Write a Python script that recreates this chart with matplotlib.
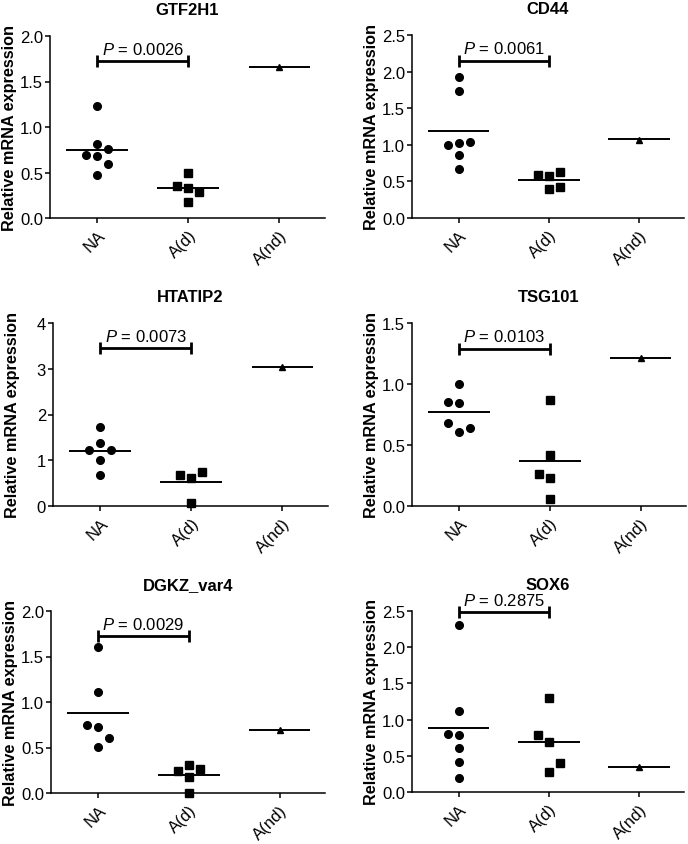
import matplotlib
matplotlib.use("Agg")
import matplotlib.pyplot as plt

plt.rcParams['font.family'] = ['Liberation Sans', 'DejaVu Sans']
plt.rcParams['mathtext.fontset'] = 'custom'
plt.rcParams['mathtext.it'] = 'Liberation Sans:italic'
plt.rcParams['mathtext.rm'] = 'Liberation Sans'

groups = ["NA", "A(d)", "A(nd)"]
genes = ["GTF2H1", "CD44", "HTATIP2", "TSG101", "DGKZ_var4", "SOX6"]

# values per gene: NA, A(d), A(nd)
gtf2h1_na = [1.23, 0.81, 0.76, 0.69, 0.68, 0.59, 0.47]
gtf2h1_ad = [0.50, 0.35, 0.33, 0.29, 0.18]
gtf2h1_and = [1.66]
gtf2h1_mean = [0.75, 0.33, 1.66]

cd44_na = [1.93, 1.74, 1.00, 1.03, 1.04, 0.86, 0.67]
cd44_ad = [0.59, 0.57, 0.63, 0.40, 0.42]
cd44_and = [1.07]
cd44_mean = [1.19, 0.52, 1.08]

htatip2_na = [1.73, 1.38, 1.22, 1.22, 1.00, 0.67]
htatip2_ad = [0.67, 0.61, 0.74, 0.07]
htatip2_and = [3.04]
htatip2_mean = [1.20, 0.52, 3.04]

tsg101_na = [1.00, 0.855, 0.845, 0.68, 0.607, 0.64]
tsg101_ad = [0.87, 0.42, 0.26, 0.23, 0.06]
tsg101_and = [1.21]
tsg101_mean = [0.77, 0.37, 1.21]

dgkz_na = [1.60, 1.11, 0.75, 0.73, 0.60, 0.51]
dgkz_ad = [0.31, 0.24, 0.26, 0.18, 0.0]
dgkz_and = [0.69]
dgkz_mean = [0.88, 0.20, 0.69]

sox6_na = [2.31, 1.12, 0.80, 0.79, 0.61, 0.41, 0.19]
sox6_ad = [1.30, 0.79, 0.69, 0.40, 0.28]
sox6_and = [0.34]
sox6_mean = [0.89, 0.69, 0.35]

p_values = ["0.0026", "0.0061", "0.0073", "0.0103", "0.0029", "0.2875"]
p_bar_y = [1.72, 2.15, 3.45, 1.29, 1.72, 2.48]
y_max = [2.0, 2.5, 4, 1.5, 2.0, 2.5]
y_step = [0.5, 0.5, 1, 0.5, 0.5, 0.5]

# layout-only: horizontal slot of each point (GraphPad-style scatter)
slots_na = [[0, 0, 1, -1, 0, 1, 0], [0, 0, -1, 0, 1, 0, 0], [0, 0, -1, 1, 0, 0],
            [0, -1, 0, -1, 0, 1], [0, 0, -1, 0, 1, 0], [0, 0, -1, 0, 0, 0, 0]]
slots_ad = [[0, -1, 0, 1, 0], [-1, 0, 1, 0, 1], [-1, 0, 1, 0],
            [0, 0, -1, 0, 0], [0, -1, 1, 0, 0], [0, -1, 0, 1, 0]]

data = [
    (gtf2h1_na, gtf2h1_ad, gtf2h1_and, gtf2h1_mean),
    (cd44_na, cd44_ad, cd44_and, cd44_mean),
    (htatip2_na, htatip2_ad, htatip2_and, htatip2_mean),
    (tsg101_na, tsg101_ad, tsg101_and, tsg101_mean),
    (dgkz_na, dgkz_ad, dgkz_and, dgkz_mean),
    (sox6_na, sox6_ad, sox6_and, sox6_mean),
]

W, H = 688, 845
rects_px = [(50, 37, 325, 219), (412, 36, 684, 219),
            (53, 324, 328, 507), (412, 324, 686, 507),
            (51, 612, 325, 794), (412, 612, 684, 793)]

fig = plt.figure(figsize=(W / 100, H / 100), dpi=100)
slot_w = 0.12
half = 0.34

for i, gene in enumerate(genes):
    L, T, R, B = rects_px[i]
    ax = fig.add_axes([L / W, 1 - B / H, (R - L) / W, (B - T) / H])
    na, ad, nd, means = data[i]
    ax.plot([0 + s * slot_w for s in slots_na[i]], na, 'o', color='black',
            ms=5.5, clip_on=False, zorder=3)
    ax.plot([1 + s * slot_w for s in slots_ad[i]], ad, 's', color='black',
            ms=5.3, clip_on=False, zorder=3)
    ax.plot([2] * len(nd), nd, '^', color='black', ms=4.5, clip_on=False, zorder=3)
    for g, m in enumerate(means):
        ax.plot([g - half, g + half], [m, m], color='black', lw=1.4,
                solid_capstyle='butt', clip_on=False)
    ax.plot([0, 1], [p_bar_y[i]] * 2, color='black', lw=2, marker='|', ms=8,
            mew=2, clip_on=False, solid_capstyle='butt')
    ax.annotate(r"$\it{P}$ = " + p_values[i], xy=(0.5, p_bar_y[i]),
                xytext=(0, 5.5), textcoords='offset points', ha='center',
                va='baseline', fontsize=12)
    ax.set_xlim(-0.52, 2.5)
    ax.set_ylim(0, y_max[i])
    n = int(round(y_max[i] / y_step[i]))
    ticks = [k * y_step[i] for k in range(n + 1)]
    ax.set_yticks(ticks)
    if y_step[i] >= 1:
        ax.set_yticklabels([str(int(t)) for t in ticks])
    else:
        ax.set_yticklabels([f"{t:.1f}" for t in ticks])
    ax.set_xticks(range(3))
    ax.set_xticklabels(groups, rotation=45, ha='right', va='top',
                       rotation_mode='anchor')
    ax.spines['top'].set_visible(False)
    ax.spines['right'].set_visible(False)
    ax.spines['left'].set_linewidth(1.1)
    ax.spines['bottom'].set_linewidth(1.1)
    ax.tick_params(axis='both', direction='out', length=3.5, width=1.1,
                   labelsize=12, color='black')
    ax.tick_params(axis='y', pad=1.5)
    ax.tick_params(axis='x', pad=3)
    ax.set_title(gene, fontsize=12, fontweight='bold', pad=16)
    ax.set_ylabel("Relative mRNA expression", fontsize=11.7, fontweight='bold')
    ax.yaxis.set_label_coords(-33 / (R - L), 0.5)

fig.savefig("out.png", dpi=100)
